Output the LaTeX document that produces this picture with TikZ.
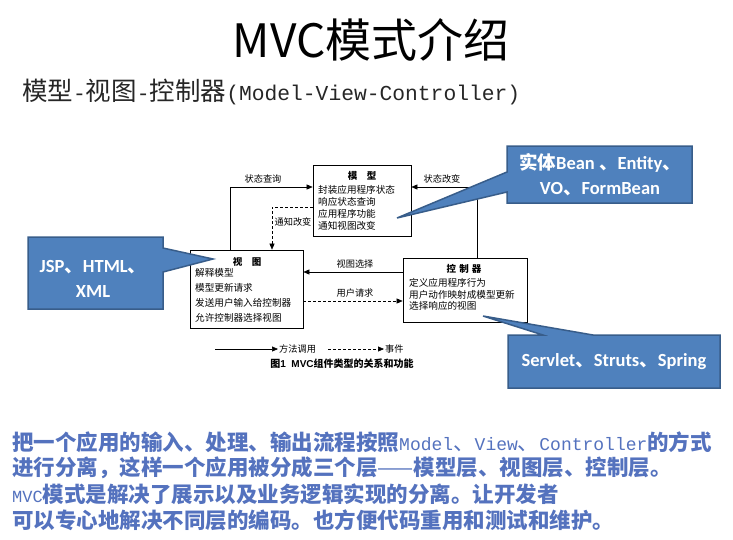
\documentclass[tikz,border=0pt]{standalone}
\usepackage{fontspec}
\setmainfont{Liberation Sans}
\newfontfamily\cjk{Noto Sans CJK SC}
\newfontfamily\mono{Liberation Mono}
\newfontfamily\calfont{Carlito}
\usetikzlibrary{arrows.meta,calc}
\definecolor{cfill}{HTML}{4F81BD}
\definecolor{cdraw}{HTML}{385D8A}
\definecolor{txtblue}{RGB}{84,114,190}
\newcommand{\dn}{{\cjk 、}}
\begin{document}
\begin{tikzpicture}[x=1pt,y=-1pt,
  box/.style={draw=black, line width=0.7pt, fill=white, inner sep=0pt},
  boxtitle/.style={font=\cjk\bfseries\fontsize{9.5}{11}\selectfont, inner sep=0pt},
  boxtext/.style={anchor=north west, align=left, inner sep=0pt},
  lbl/.style={font=\cjk\fontsize{9.2}{11}\selectfont, inner sep=1pt},
  arr/.style={-{Triangle[length=6pt,width=5pt]}, line width=0.6pt},
  evt/.style={arr, dash pattern=on 3pt off 2pt},
  callout/.style={fill=cfill, draw=cdraw, line width=1.5pt, line join=miter},
  calltext/.style={text=white, font=\calfont\bfseries\fontsize{18.5}{24}\selectfont, align=center, inner sep=0pt},
  bodyline/.style={anchor=west, inner sep=0pt, text=txtblue}
]
\useasboundingbox (0,0) rectangle (733,539);

% title
\node[inner sep=0pt] (title) at (371,40) {\cjk\fontsize{46}{50}\selectfont MVC模式介绍};
\node[anchor=west, inner sep=0pt, text=black!85] (sub) at (22,92)
  {\fontsize{25.5}{28}\selectfont{\cjk 模型}{\mono\fontsize{21.3}{28}\selectfont -}{\cjk 视图}{\mono\fontsize{21.3}{28}\selectfont -}{\cjk 控制器}{\mono\fontsize{21.3}{28}\selectfont (Model-View-Controller)}};

% boxes
\node[box, minimum width=98pt, minimum height=71pt] (model) at (362,200.5) {};
\node[box, minimum width=113pt, minimum height=78pt] (view) at (246.5,289) {};
\node[box, minimum width=124pt, minimum height=64pt] (ctrl) at (465,290) {};

\node[boxtitle] (mt) at (362,176) {模\quad 型};
\node[boxtext, font=\cjk\fontsize{9.6}{12}\selectfont] (mb) at (318,185.5) {封装应用程序状态\\ 响应状态查询\\ 应用程序功能\\ 通知视图改变};
\node[boxtitle] (vt) at (247,262) {视\quad 图};
\node[boxtext, font=\cjk\fontsize{9.6}{15}\selectfont] (vb) at (195,268.5) {解释模型\\ 模型更新请求\\ 发送用户输入给控制器\\ 允许控制器选择视图};
\node[boxtitle] (ct) at (464,269) {控\,\,制\,\,器};
\node[boxtext, font=\cjk\fontsize{9.6}{11.7}\selectfont] (cb) at (409,278) {定义应用程序行为\\ 用户动作映射成模型更新\\ 选择响应的视图};

% connectors
\draw[arr] ([xshift=-16.5pt]view.north) |- ([yshift=13.5pt]model.west);
\draw[arr] ([xshift=12pt]ctrl.north) |- ([yshift=13.5pt]model.east);
\draw[evt] ([yshift=-6.5pt]model.west) -| ([xshift=25.5pt]view.north);
\draw[arr] ([yshift=18pt]ctrl.west) -- ([yshift=17pt]view.east);
\draw[evt] ([yshift=-12pt]view.east) -- ([yshift=-11pt]ctrl.west);

\node[lbl] (l1) at (263,179) {状态查询};
\node[lbl] (l2) at (442,179) {状态改变};
\node[lbl, fill=white, inner sep=0.5pt] (l3) at (293,222) {通知改变};
\node[lbl] (l4) at (355,264) {视图选择};
\node[lbl] (l5) at (355,293) {用户请求};

% legend
\coordinate (a1) at (215,349);
\node[lbl, anchor=west] (m1) at (278,349) {方法调用};
\draw[arr] (a1) -- (m1.west);
\coordinate (a2) at (328,349);
\node[lbl, anchor=west] (m2) at (384,349) {事件};
\draw[evt] (a2) -- (m2.west);
\node[inner sep=0pt] (cap) at (342,364) {\fontsize{10}{11}\selectfont\bfseries{\cjk 图}1\ \ MVC{\cjk 组件类型的关系和功能}};

% callouts
\draw[callout] (507,146) -- (692,146) -- (692,203) -- (507,203) -- (507,192) -- (397,218) -- (507,172) -- cycle;
\node[calltext] (c1) at (600,175) {{\cjk 实体}Bean \dn Entity\dn\\[1pt] VO\dn FormBean};
\draw[callout] (28,237) -- (163,237) -- (163,248) -- (213,259) -- (163,272) -- (163,309) -- (28,309) -- cycle;
\node[calltext] (c2) at (93,279) {JSP\dn HTML\dn\\[1pt] XML};
\draw[callout] (508,335) -- (543,335) -- (483,316) -- (593,335) -- (720,335) -- (720,388) -- (508,388) -- cycle;
\node[calltext] (c3) at (614,362) {Servlet\dn Struts\dn Spring};

% body text
\node[bodyline] (b1) at (12,442) {\fontsize{21.5}{24}\selectfont{\cjk\bfseries 把一个应用的输入、处理、输出流程按照}{\mono\fontsize{18}{24}\selectfont Model}{\cjk 、}{\mono\fontsize{18}{24}\selectfont View}{\cjk 、}{\mono\fontsize{18}{24}\selectfont Controller}{\cjk\bfseries 的方式}};
\node[bodyline] (b2) at (12,468) {\fontsize{21.5}{24}\selectfont\cjk\bfseries 进行分离，这样一个应用被分成三个层{\mdseries ——}模型层、视图层、控制层。};
\node[bodyline] (b3) at (12,494) {\fontsize{21.5}{24}\selectfont{\mono\fontsize{17}{24}\selectfont MVC}{\cjk\bfseries 模式是解决了展示以及业务逻辑实现的分离。让开发者}};
\node[bodyline] (b4) at (12,520) {\fontsize{21.5}{24}\selectfont\cjk\bfseries 可以专心地解决不同层的编码。也方便代码重用和测试和维护。};
\end{tikzpicture}
\end{document}
